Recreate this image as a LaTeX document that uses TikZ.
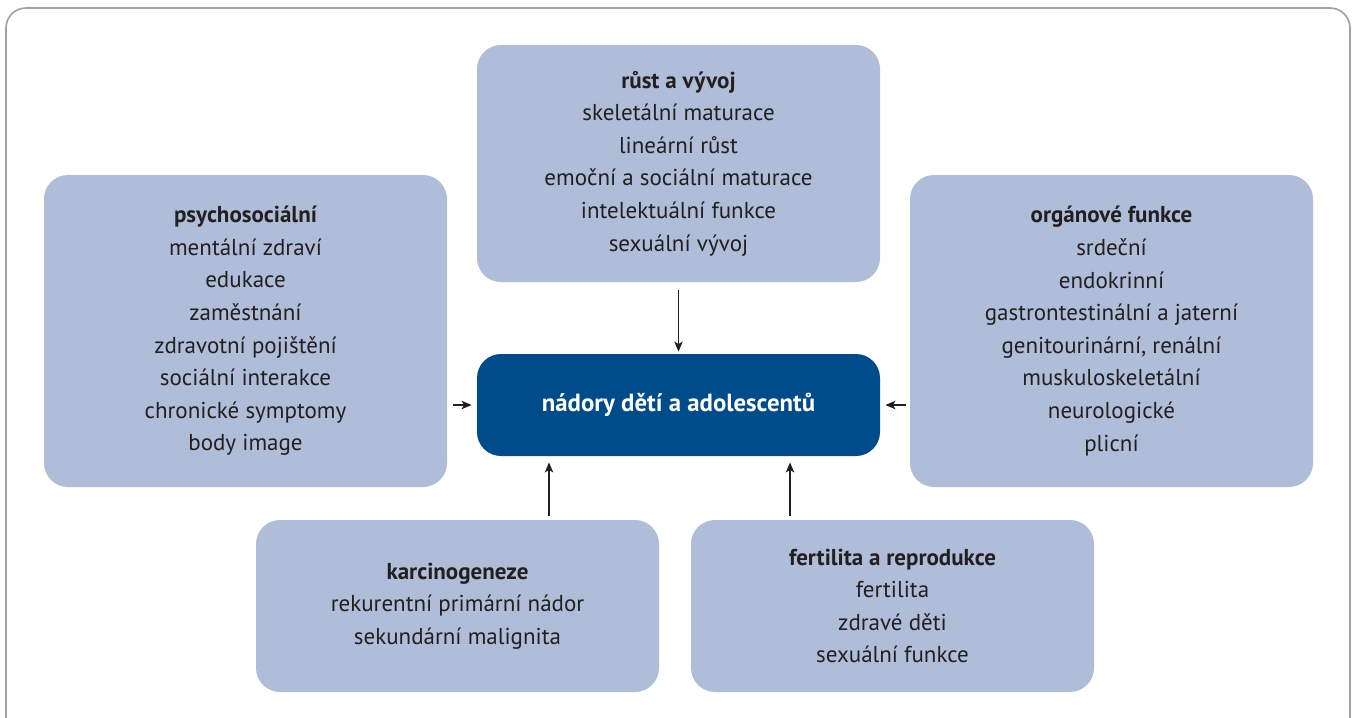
\documentclass[tikz,border=0pt]{standalone}
\usepackage{fontspec}
\setmainfont{PT Sans}
\usetikzlibrary{positioning, arrows.meta}

\definecolor{boxlight}{RGB}{175,189,217}
\definecolor{boxdark}{RGB}{0,75,138}
\definecolor{textdark}{RGB}{35,31,32}
\definecolor{framegray}{RGB}{160,160,160}

\begin{document}
\begin{tikzpicture}[
		x=0.5pt, y=-0.5pt,
		>={Stealth[inset=1.2pt, length=5pt, width=4.2pt]}, % Pfeilspitzen
		every node/.style={font=\fontsize{11.5}{16.3}\selectfont, text=textdark},
		area/.style={
			fill=boxlight,
			rounded corners=12pt,
			minimum width=201.5pt,
			inner sep=0pt,
			align=center},
		core/.style={
			fill=boxdark,
			rounded corners=12pt,
			minimum width=201.5pt,
			minimum height=51pt,
			text=white,
			font=\fontsize{12.4}{16.3}\selectfont\bfseries,
			align=center},
		link/.style={->, line width=0.65pt, textdark}
		]
		
		\useasboundingbox (0,0) rectangle (1352,717);
		\clip (0,0) rectangle (1352,717);
		
		% Rahmen
		\draw[framegray, line width=0.8pt, rounded corners=10pt] (6,8) rectangle (1350,760);
		
		% Zentrum
		\node[core] (tumor) at (678.5,405) {nádory dětí a adolescentů};
		
		% Oben
		\node[area, minimum height=118.5pt] (growth) at (678.5,163.5) {
			\textbf{růst a vývoj} \\
			skeletální maturace \\
			lineární růst \\
			emoční a sociální maturace \\
			intelektuální funkce \\
			sexuální vývoj
		};
		
		% Links
		\node[area, minimum height=156pt] (psycho) at (245.5,331) {
			\textbf{psychosociální} \\
			mentální zdraví \\
			edukace \\
			zaměstnání \\
			zdravotní pojištění \\
			sociální interakce \\
			chronické symptomy \\
			body image
		};
		
		% Rechts
		\node[area, minimum height=156pt] (organ) at (1111.5,331) {
			\textbf{orgánové funkce} \\
			srdeční \\
			endokrinní \\
			gastrontestinální a jaterní \\
			genitourinární, renální \\
			muskuloskeletální \\
			neurologické \\
			plicní
		};
		
		% Unten links
		\node[area, minimum height=86pt] (carcino) at (457.5,606) {
			\textbf{karcinogeneze} \\
			rekurentní primární nádor \\
			sekundární malignita
		};
		
		% Unten rechts
		\node[area, minimum height=86pt] (fertil) at (892.5,606) {
			\textbf{fertilita a reprodukce} \\
			fertilita \\
			zdravé děti \\
			sexuální funkce
		};
		
		% Pfeile
		\draw[link] ([yshift=-4pt]growth.south) -- ([yshift=1pt]tumor.north);
		\draw[link] ([xshift=3pt]psycho.east |- tumor.west) -- ([xshift=-2.5pt]tumor.west);
		\draw[link] ([xshift=-2pt]organ.west |- tumor.east) -- ([xshift=2.5pt]tumor.east);
		\draw[link] ([yshift=2pt]carcino.north -| 549,0) -- ([yshift=-3pt]tumor.south -| 549,0);
		\draw[link] ([yshift=2pt]fertil.north -| 790,0) -- ([yshift=-3pt]tumor.south -| 790,0);
		
	\end{tikzpicture}
\end{document}
